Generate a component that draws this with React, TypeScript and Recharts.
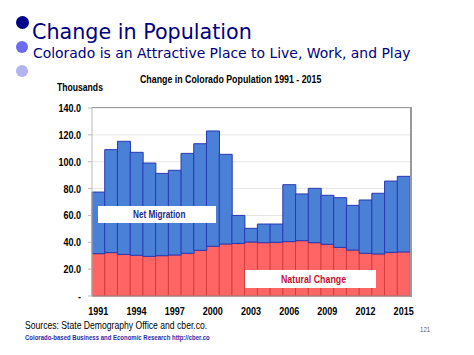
import React from 'react';
import { BarChart, Bar, XAxis, YAxis, CartesianGrid, Cell } from 'recharts';

// ─── data (thousands) ─────────────────────────────────────────────────────────

const years = [
  '1991', '1992', '1993', '1994', '1995', '1996', '1997', '1998', '1999', '2000',
  '2001', '2002', '2003', '2004', '2005', '2006', '2007', '2008', '2009', '2010',
  '2011', '2012', '2013', '2014', '2015',
];

const naturalChange = [
  31.5, 32.3, 31.0, 30.3, 29.5, 30.0, 30.5, 31.8, 34.0, 37.0,
  38.7, 39.2, 40.2, 39.7, 40.0, 40.5, 41.2, 39.7, 38.5, 36.2,
  34.2, 31.8, 31.3, 32.5, 32.8,
];

const netMigration = [
  45.9, 76.7, 84.2, 76.7, 69.5, 61.3, 63.1, 74.4, 79.4, 85.9,
  66.8, 20.8, 10.2, 13.9, 13.6, 42.4, 34.8, 40.5, 36.5, 37.0,
  33.3, 39.7, 45.2, 53.1, 56.3,
];

const yTicks = [0, 20, 40, 60, 80, 100, 120, 140];

const data = years.map((year, i) => ({
  year,
  natural: naturalChange[i],
  migration: netMigration[i],
}));

// ─── styles ───────────────────────────────────────────────────────────────────

const ARIAL = '"Liberation Sans", Arial, sans-serif';
const TITLE_FONT = '"DejaVu Sans", Verdana, Tahoma, sans-serif';
const NARROW = 0.82;

// squeezed Liberation Sans stands in for Arial Narrow
function Narrow({
  left,
  top,
  size,
  bold,
  color = '#000',
  scale = NARROW,
  children,
}: {
  left: number;
  top: number;
  size: number;
  bold?: boolean;
  color?: string;
  scale?: number;
  children: React.ReactNode;
}) {
  return (
    <div
      style={{
        position: 'absolute',
        left,
        top,
        fontFamily: ARIAL,
        fontSize: size,
        fontWeight: bold ? 700 : 400,
        color,
        lineHeight: 1,
        whiteSpace: 'nowrap',
        transform: `scaleX(${scale})`,
        transformOrigin: 'left top',
      }}
    >
      {children}
    </div>
  );
}

function XTick({ x, y, payload }: any) {
  return (
    <text
      transform={`translate(${x},${y}) scale(${NARROW},1)`}
      textAnchor="middle"
      dy={9}
      fontSize={11}
      fontFamily={ARIAL}
      fontWeight={700}
      fill="#000"
    >
      {payload.value}
    </text>
  );
}

function YTick({ x, y, payload }: any) {
  const v = payload.value as number;
  return (
    <text
      transform={`translate(${x},${y}) scale(${NARROW},1)`}
      textAnchor="end"
      dy={4}
      fontSize={11}
      fontFamily={ARIAL}
      fontWeight={700}
      fill="#000"
    >
      {v === 0 ? '-' : v.toFixed(1)}
    </text>
  );
}

function Dot({ top, size, color }: { top: number; size: number; color: string }) {
  return (
    <div
      style={{
        position: 'absolute',
        left: 22 - size / 2,
        top: top - size / 2,
        width: size,
        height: size,
        borderRadius: '50%',
        background: color,
      }}
    />
  );
}

export default function App() {
  return (
    <div
      style={{
        position: 'fixed',
        left: 0,
        top: 0,
        width: 474,
        height: 355,
        background: '#fff',
        overflow: 'hidden',
      }}
    >
      <Dot top={22} size={13} color="#00008b" />
      <Dot top={47} size={12} color="#6b6bef" />
      <Dot top={71} size={12} color="#b3b3f2" />

      <div
        style={{
          position: 'absolute',
          left: 32,
          top: 21,
          fontFamily: TITLE_FONT,
          fontSize: 22,
          color: '#000080',
          lineHeight: 1,
          whiteSpace: 'nowrap',
          transform: 'scaleX(0.94)',
          transformOrigin: 'left top',
        }}
      >
        Change in Population
      </div>
      <div
        style={{
          position: 'absolute',
          left: 33,
          top: 45.5,
          fontFamily: TITLE_FONT,
          fontSize: 14.5,
          color: '#000080',
          lineHeight: 1,
          whiteSpace: 'nowrap',
          transform: 'scaleX(0.96)',
          transformOrigin: 'left top',
        }}
      >
        Colorado is an Attractive Place to Live, Work, and Play
      </div>

      <Narrow left={140} top={74} size={10.5} bold scale={0.84}>
        Change in Colorado Population 1991 - 2015
      </Narrow>
      <Narrow left={57} top={82} size={10.5} bold>
        Thousands
      </Narrow>

      <div style={{ position: 'absolute', left: 0, top: 0 }}>
        <BarChart
          width={474}
          height={355}
          data={data}
          barCategoryGap={0}
          margin={{ top: 108, right: 64, left: 0, bottom: 29 }}
        >
          <CartesianGrid vertical={false} stroke="#e6e6e6" />
          <XAxis
            dataKey="year"
            interval={2}
            tick={<XTick />}
            tickLine={false}
            axisLine={{ stroke: '#999' }}
            height={30}
            tickMargin={4}
          />
          <YAxis
            domain={[0, 140]}
            ticks={yTicks}
            tick={<YTick />}
            width={92}
            tickSize={4}
            tickMargin={7}
            axisLine={{ stroke: '#bbb' }}
            tickLine={{ stroke: '#bbb' }}
          />
          <Bar dataKey="natural" stackId="a" isAnimationActive={false}>
            {data.map((_, i) => (
              <Cell key={i} fill="#ff6565" stroke="#d43c3c" strokeWidth={1} />
            ))}
          </Bar>
          <Bar dataKey="migration" stackId="a" isAnimationActive={false}>
            {data.map((_, i) => (
              <Cell key={i} fill="#4a80d6" stroke="#2838b4" strokeWidth={1} />
            ))}
          </Bar>
        </BarChart>
      </div>

      {/* plot frame: top + right edge */}
      <div
        style={{
          position: 'absolute',
          left: 92,
          top: 107,
          width: 318,
          height: 189,
          borderTop: '1px solid #999',
          borderRight: '2px solid #999',
          pointerEvents: 'none',
        }}
      />

      <div
        style={{
          position: 'absolute',
          left: 98,
          top: 206,
          width: 118,
          height: 17,
          background: '#fff',
        }}
      />
      <Narrow left={133} top={210} size={10} bold color="#1a2a8a">
        Net Migration
      </Narrow>
      <div
        style={{
          position: 'absolute',
          left: 245,
          top: 270,
          width: 131,
          height: 18,
          background: '#fff',
        }}
      />
      <Narrow left={281} top={274} size={11} bold color="#c8102e" scale={0.8}>
        Natural Change
      </Narrow>

      <Narrow left={25} top={320} size={10.5}>
        Sources: State Demography Office and cber.co.
      </Narrow>
      <Narrow left={25} top={334} size={7.5} bold color="#2b2ba8" scale={0.8}>
        Colorado-based Business and Economic Research http://cber.co
      </Narrow>
      <Narrow left={420} top={326} size={7.5} color="#666">
        121
      </Narrow>
    </div>
  );
}
